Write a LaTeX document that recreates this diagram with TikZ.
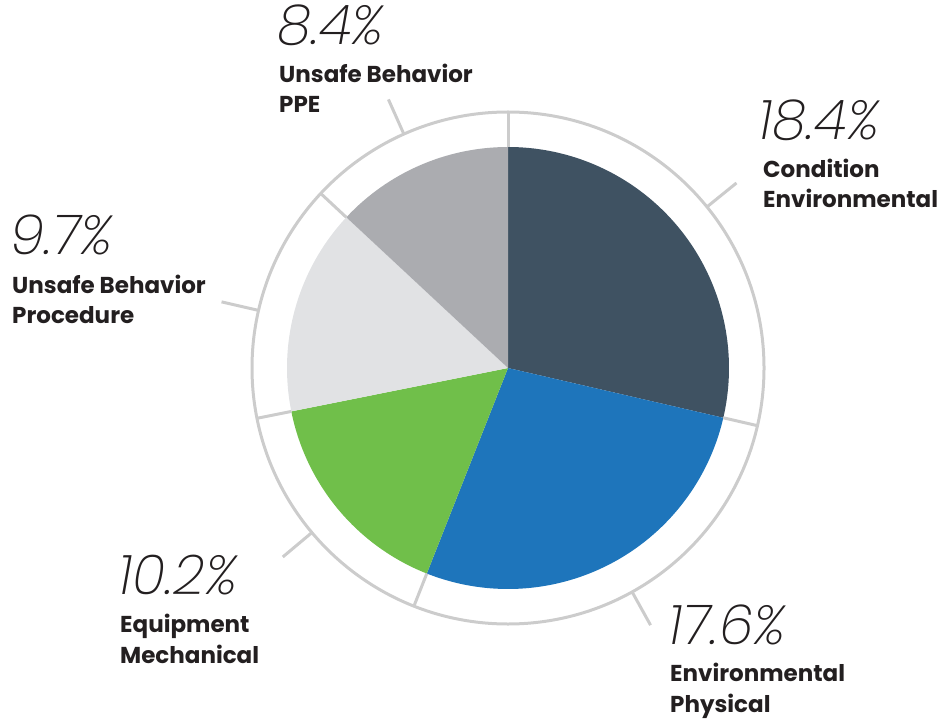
\documentclass[tikz,border=0pt]{standalone}
\usepackage{fontspec}
\usetikzlibrary{calc}
\setmainfont{Poppins}
\newfontfamily\pctfont{Poppins ExtraLight Italic}
\newfontfamily\lblfont{Poppins Bold}
\definecolor{cdark}{HTML}{3F5262}
\definecolor{cblue}{HTML}{1E75BB}
\definecolor{cgreen}{HTML}{70BF4A}
\definecolor{clight}{HTML}{E1E2E4}
\definecolor{cgray}{HTML}{ABACB0}
\definecolor{cring}{HTML}{CCCCCC}
\definecolor{ctext}{HTML}{231F20}
\begin{document}
\begin{tikzpicture}[x=1pt,y=1pt,
  ring/.style={draw=cring,line width=3pt},
  pct/.style={anchor=base west,inner sep=0pt,text=ctext,font=\pctfont\fontsize{55}{55}\selectfont},
  lbl/.style={anchor=base west,inner sep=0pt,text=ctext,font=\lblfont\fontsize{23}{23}\selectfont}]
\useasboundingbox (0,0) rectangle (941,721);
\coordinate (C) at (508,353);
\def\R{221}
\def\Ro{256}
\def\Rt{294}
% slices
\fill[cdark]  (C) -- ++(90:\R) arc[start angle=90, end angle=-13.02, radius=\R] -- cycle;
\fill[cblue]  (C) -- ++(-13.02:\R) arc[start angle=-13.02, end angle=-111.56, radius=\R] -- cycle;
\fill[cgreen] (C) -- ++(-111.56:\R) arc[start angle=-111.56, end angle=-168.67, radius=\R] -- cycle;
\fill[clight] (C) -- ++(-168.67:\R) arc[start angle=-168.67, end angle=-222.98, radius=\R] -- cycle;
\fill[cgray]  (C) -- ++(137.02:\R) arc[start angle=137.02, end angle=90, radius=\R] -- cycle;
% outer ring
\draw[ring] (C) circle[radius=\Ro];
\foreach \b in {90,-13.02,-111.56,-168.67,137.02}
  \draw[ring] ($(C)+(\b:\R)$) -- ($(C)+(\b:\Ro)$);
\foreach \t in {114,39,-61,-140,167}
  \draw[ring] ($(C)+(\t:\Ro)$) -- ($(C)+(\t:\Rt)$);
% labels
\node[pct] (p1) at (277,676) {8.4\%};
\node[lbl] (l1a) at (279,638) {Unsafe Behavior};
\node[lbl] (l1b) at (279,608) {PPE};
\node[pct] (p2) at (758,581) {18.4\%};
\node[lbl] (l2a) at (763,543) {Condition};
\node[lbl] (l2b) at (763,513) {Environmental};
\node[pct] (p3) at (10,466) {9.7\%};
\node[lbl] (l3a) at (12,428) {Unsafe Behavior};
\node[lbl] (l3b) at (12,398) {Procedure};
\node[pct] (p4) at (118,127) {10.2\%};
\node[lbl] (l4a) at (120,89) {Equipment};
\node[lbl] (l4b) at (120,58) {Mechanical};
\node[pct] (p5) at (668,77) {17.6\%};
\node[lbl] (l5a) at (670,40) {Environmental};
\node[lbl] (l5b) at (670,9) {Physical};
\end{tikzpicture}
\end{document}
